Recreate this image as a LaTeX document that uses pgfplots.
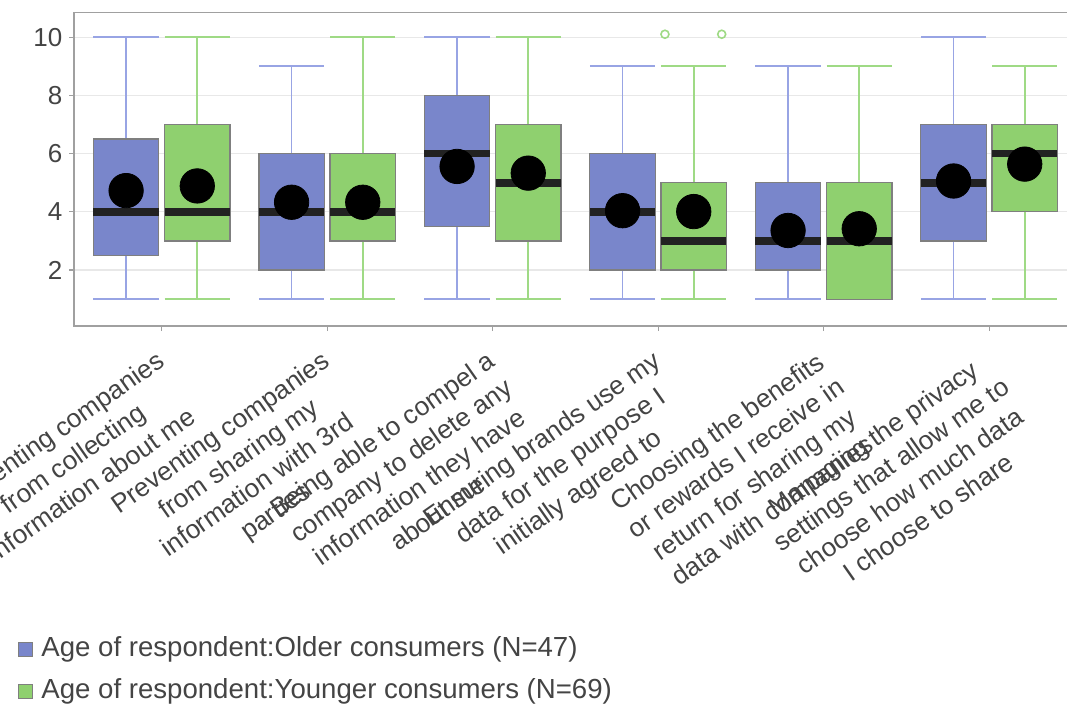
\documentclass[border=0pt]{standalone}
\usepackage{fontspec}
\setmainfont{Liberation Sans}
\usepackage{pgfplots}
\pgfplotsset{compat=1.18}
\usepgfplotslibrary{statistics}

\definecolor{oldfill}{HTML}{7986CB}
\definecolor{youngfill}{HTML}{8FD06F}
\definecolor{oldwhisk}{HTML}{98A4E4}
\definecolor{youngwhisk}{HTML}{9FDA85}
\definecolor{boxedge}{HTML}{7F7F7F}
\definecolor{textgrey}{HTML}{444444}
\definecolor{meandot}{HTML}{222222}
\definecolor{gridgrey}{HTML}{E8E8E8}
\definecolor{axisgrey}{HTML}{A0A0A0}

\pgfplotsset{
  basebox/.style={
    forget plot,
    boxplot/draw direction=y,
    boxplot/box extend=0.395,
    boxplot/whisker extend=0.395,
    boxplot/every median/.style={draw=meandot, line width=3.8pt},
    boxplot/every average/.style={/tikz/mark=*, /tikz/mark size=8.6pt,
      /tikz/fill=meandot, /tikz/draw=meandot, /tikz/solid},
  },
  oldbox/.style={basebox,
    boxplot/every box/.style={fill=oldfill, draw=boxedge, line width=0.6pt},
    boxplot/every whisker/.style={draw=oldwhisk, line width=0.9pt}},
  youngbox/.style={basebox,
    boxplot/every box/.style={fill=youngfill, draw=boxedge, line width=0.6pt},
    boxplot/every whisker/.style={draw=youngwhisk, line width=0.9pt}},
}

\begin{document}
\begin{tikzpicture}
\begin{axis}[
  at={(0,0)}, anchor=south west,
  scale only axis, width=498.8pt, height=156.8pt,
  xmin=-0.528, xmax=5.5, ymin=0.08, ymax=10.85,
  xtick={0,1,2,3,4,5},
  xticklabels={
    {Preventing companies\\from collecting\\information about me},
    {Preventing companies\\from sharing my\\information with 3rd\\parties},
    {Being able to compel a\\company to delete any\\information they have\\about me},
    {Ensuring brands use my\\data for the purpose I\\initially agreed to},
    {Choosing the benefits\\or rewards I receive in\\return for sharing my\\data with companies},
    {Managing the privacy\\settings that allow me to\\choose how much data\\I choose to share}},
  ytick={2,4,6,8,10},
  /pgf/number format/assume math mode=true,
  ymajorgrids, grid style={color=gridgrey, line width=0.6pt},
  axis line style={color=axisgrey, line width=0.8pt},
  tick style={color=axisgrey, line width=0.6pt},
  tick align=outside, major tick length=2.5pt,
  xtick pos=left, ytick pos=left,
  yticklabel style={font=\fontsize{13}{15}\selectfont, text=textgrey},
  xticklabel style={font=\fontsize{13.1}{16}\selectfont, text=textgrey,
    rotate=35, anchor=north east, align=center, inner sep=0pt,
    xshift=-7.9pt, yshift=-5.6pt},
  legend style={at={(axis description cs:-0.0564,-0.99)}, anchor=north west,
    draw=none, fill=none, inner sep=0pt, row sep=8pt, column sep=4pt,
    nodes={inner sep=0pt, text height=10pt, text depth=3pt,
      font=\fontsize{13.8}{16}\selectfont, text=textgrey}},
  legend cell align=left,
]
% Older consumers (left box of each pair) and younger consumers (right box)
\addplot[oldbox, boxplot prepared={draw position=-0.215, lower whisker=1, lower quartile=2.5, median=4, upper quartile=6.5, upper whisker=10, average=4.73}] coordinates {};
\addplot[youngbox, boxplot prepared={draw position=0.215, lower whisker=1, lower quartile=3, median=4, upper quartile=7, upper whisker=10, average=4.89}] coordinates {};

\addplot[oldbox, boxplot prepared={draw position=0.785, lower whisker=1, lower quartile=2, median=4, upper quartile=6, upper whisker=9, average=4.33}] coordinates {};
\addplot[youngbox, boxplot prepared={draw position=1.215, lower whisker=1, lower quartile=3, median=4, upper quartile=6, upper whisker=10, average=4.33}] coordinates {};

\addplot[oldbox, boxplot prepared={draw position=1.785, lower whisker=1, lower quartile=3.5, median=6, upper quartile=8, upper whisker=10, average=5.56}] coordinates {};
\addplot[youngbox, boxplot prepared={draw position=2.215, lower whisker=1, lower quartile=3, median=5, upper quartile=7, upper whisker=10, average=5.33}] coordinates {};

\addplot[oldbox, boxplot prepared={draw position=2.785, lower whisker=1, lower quartile=2, median=4, upper quartile=6, upper whisker=9, average=4.04}] coordinates {};
\addplot[youngbox, boxplot prepared={draw position=3.215, lower whisker=1, lower quartile=2, median=3, upper quartile=5, upper whisker=9, average=4.01}] coordinates {};

\addplot[oldbox, boxplot prepared={draw position=3.785, lower whisker=1, lower quartile=2, median=3, upper quartile=5, upper whisker=9, average=3.36}] coordinates {};
\addplot[youngbox, boxplot prepared={draw position=4.215, lower whisker=1, lower quartile=1, median=3, upper quartile=5, upper whisker=9, average=3.42}] coordinates {};

\addplot[oldbox, boxplot prepared={draw position=4.785, lower whisker=1, lower quartile=3, median=5, upper quartile=7, upper whisker=10, average=5.06}] coordinates {};
\addplot[youngbox, boxplot prepared={draw position=5.215, lower whisker=1, lower quartile=4, median=6, upper quartile=7, upper whisker=9, average=5.64}] coordinates {};

% outliers of the younger group, fourth statement
\addplot[forget plot, only marks, mark=o, mark size=2pt,
  mark options={draw=youngwhisk, line width=0.8pt}]
  coordinates {(3.041,10.1) (3.384,10.1)};

\addlegendimage{legend image code/.code={\draw[fill=oldfill, draw=boxedge, line width=0.5pt] (0pt,-3.5pt) rectangle (7pt,3.5pt);}}
\addlegendentry{Age of respondent:Older consumers (N=47)}
\addlegendimage{legend image code/.code={\draw[fill=youngfill, draw=boxedge, line width=0.5pt] (0pt,-3.5pt) rectangle (7pt,3.5pt);}}
\addlegendentry{Age of respondent:Younger consumers (N=69)}
\end{axis}
\pgfresetboundingbox
\path[use as bounding box] (-37.15pt,-190pt) rectangle (496.35pt,163pt);
\end{tikzpicture}
\end{document}
